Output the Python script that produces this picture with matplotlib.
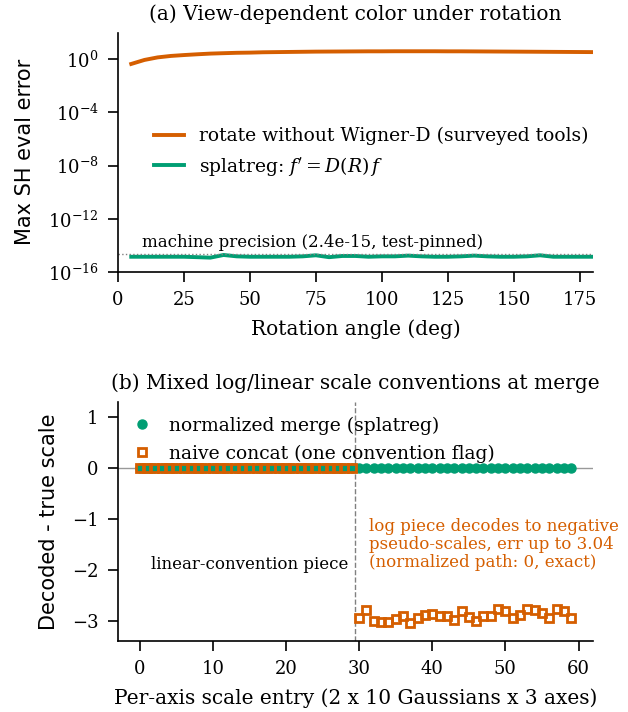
import numpy as np
import matplotlib
matplotlib.use('Agg')
import matplotlib.pyplot as plt

plt.rcParams['font.family'] = 'DejaVu Serif'
plt.rcParams['mathtext.fontset'] = 'dejavuserif'

ORANGE = '#D55E00'
GREEN = '#009E73'

# panel (a): rotation sweep
angles = [5, 10, 15, 20, 25, 30, 35, 40, 45, 50, 55, 60, 65, 70, 75, 80, 85, 90,
          95, 100, 105, 110, 115, 120, 125, 130, 135, 140, 145, 150, 155, 160, 165, 170, 175, 180]
err_naive = [0.45, 0.9, 1.4, 1.8, 2.1, 2.4, 2.7, 2.9, 3.1, 3.2, 3.4, 3.5, 3.6, 3.7, 3.8, 3.85,
             3.9, 3.95, 4.0, 4.0, 4.05, 4.05, 4.05, 4.05, 4.0, 4.0, 3.95, 3.9, 3.85, 3.8,
             3.75, 3.7, 3.65, 3.6, 3.55, 3.5]
err_wigner = [1.4, 1.4, 1.4, 1.4, 1.4, 1.3, 1.2, 1.9, 1.5, 1.4, 1.4, 1.4, 1.4, 1.5, 1.8, 1.3,
              1.6, 1.6, 1.4, 1.5, 1.5, 1.7, 1.5, 1.4, 1.4, 1.5, 1.7, 1.5, 1.4, 1.4,
              1.5, 1.8, 1.4, 1.4, 1.4, 1.4]
err_wigner = [v * 1e-15 for v in err_wigner]
machine_eps = 2.4e-15

# panel (b): per-axis scale entries
entries = list(range(60))
normalized_err = [0.0] * 60
naive_err = [0.0] * 30 + [-2.95, -2.80, -3.00, -3.02, -3.02, -2.96, -2.91, -3.04, -2.94, -2.88,
                          -2.86, -2.90, -2.90, -2.99, -2.81, -2.92, -3.00, -2.91, -2.90, -2.77,
                          -2.81, -2.95, -2.89, -2.77, -2.80, -2.85, -2.94, -2.77, -2.82, -2.95]
split_at = 29.5

fig = plt.figure(figsize=(6.28, 7.12), dpi=100)
ax1 = fig.add_axes([0.188, 0.618, 0.756, 0.336])
ax2 = fig.add_axes([0.188, 0.0997, 0.756, 0.336])

# (a)
ax1.plot(angles, err_naive, color=ORANGE, lw=2.8, label='rotate without Wigner-D (surveyed tools)')
ax1.plot(angles, err_wigner, color=GREEN, lw=2.8, label=r"splatreg: $f' = D(R)\,f$")
ax1.axhline(machine_eps, color='gray', ls=':', lw=1)
ax1.text(9, machine_eps * 1.6, 'machine precision (2.4e-15, test-pinned)', fontsize=12, va='bottom')
ax1.set_yscale('log')
ax1.set_ylim(1e-16, 1e2)
ax1.set_xlim(0, 180)
ax1.set_yticks([1e-16, 1e-12, 1e-8, 1e-4, 1e0])
ax1.minorticks_off()
ax1.set_xlabel('Rotation angle (deg)', fontsize=14.5, labelpad=7)
ax1.set_ylabel('Max SH eval error', fontsize=15, family='DejaVu Sans', labelpad=9)
ax1.set_title('(a) View-dependent color under rotation', fontsize=14.5, pad=9)
ax1.legend(loc='center left', bbox_to_anchor=(0.04, 0.5), frameon=False, fontsize=13.5,
           handlelength=1.6)

# (b)
ax2.axhline(0, color='gray', lw=1, alpha=0.8)
ax2.axvline(split_at, color='gray', ls='--', lw=1)
ax2.plot(entries, normalized_err, 'o', color=GREEN, ms=6.5, label='normalized merge (splatreg)')
ax2.plot(entries, naive_err, 's', color=ORANGE, mfc='none', mew=2, ms=6,
         label='naive concat (one convention flag)')
ax2.text(28.6, -1.9, 'linear-convention piece', ha='right', va='center', fontsize=12)
ax2.text(31.3, -1.5, 'log piece decodes to negative\npseudo-scales, err up to 3.04\n(normalized path: 0, exact)',
         ha='left', va='center', fontsize=12, color=ORANGE, linespacing=1.1)
ax2.set_ylim(-3.4, 1.3)
ax2.set_yticks([-3, -2, -1, 0, 1])
ax2.set_xlabel('Per-axis scale entry (2 x 10 Gaussians x 3 axes)', fontsize=14.5, labelpad=7)
ax2.set_ylabel('Decoded - true scale', fontsize=15, family='DejaVu Sans', labelpad=9)
ax2.set_title('(b) Mixed log/linear scale conventions at merge', fontsize=14.5, pad=9)
ax2.legend(loc='upper left', frameon=False, fontsize=13.5, handlelength=1.0,
           handletextpad=0.9, borderaxespad=0.4)

for ax in (ax1, ax2):
    ax.spines['top'].set_visible(False)
    ax.spines['right'].set_visible(False)
    ax.tick_params(labelsize=13, length=7, width=1.2, pad=7)
    ax.spines['left'].set_linewidth(1.2)
    ax.spines['bottom'].set_linewidth(1.2)

fig.savefig('out.png', dpi=100)
